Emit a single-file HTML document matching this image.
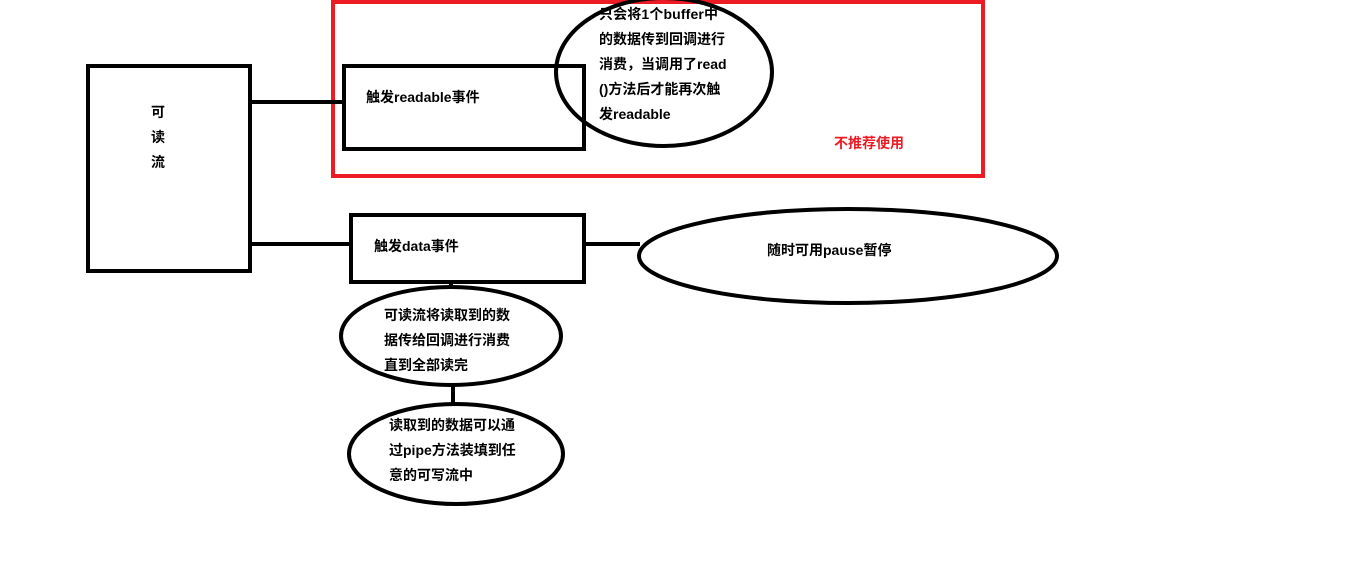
<!DOCTYPE html>
<html><head><meta charset="utf-8"><style>
body{margin:0;background:#fff;width:1356px;height:572px;overflow:hidden}
svg text{font-family:"Liberation Sans","Noto Sans CJK SC",sans-serif;font-weight:bold;font-size:14px;fill:#000}
</style></head><body>
<svg width="1356" height="572" viewBox="0 0 1356 572" xmlns="http://www.w3.org/2000/svg">
<rect x="333" y="2" width="650" height="174" fill="none" stroke="#ed1c24" stroke-width="4"/>
<rect x="88" y="66" width="162" height="205" fill="none" stroke="#000" stroke-width="4"/>
<rect x="344" y="66" width="240" height="83" fill="none" stroke="#000" stroke-width="4"/>
<ellipse cx="664" cy="72" rx="108" ry="74" fill="none" stroke="#000" stroke-width="4"/>
<rect x="351" y="215" width="233" height="67" fill="none" stroke="#000" stroke-width="4"/>
<ellipse cx="848" cy="256" rx="209" ry="47" fill="none" stroke="#000" stroke-width="4"/>
<ellipse cx="451" cy="336" rx="110" ry="49" fill="none" stroke="#000" stroke-width="4"/>
<ellipse cx="456" cy="454" rx="107" ry="50" fill="none" stroke="#000" stroke-width="4"/>
<g stroke="#000" stroke-width="4">
<line x1="252" y1="102" x2="344" y2="102"/>
<line x1="252" y1="244" x2="351" y2="244"/>
<line x1="586" y1="244" x2="640" y2="244"/>
<line x1="451" y1="282" x2="451" y2="288"/>
<line x1="453" y1="386" x2="453" y2="404"/>
</g>
<text x="151" y="117">可</text>
<text x="151" y="142">读</text>
<text x="151" y="167">流</text>
<text x="366" y="102">触发readable事件</text>
<text x="599" y="19" textLength="119">只会将1个buffer中</text>
<text x="599" y="44">的数据传到回调进行</text>
<text x="599" y="69">消费，当调用了read</text>
<text x="599" y="94">()方法后才能再次触</text>
<text x="599" y="119">发readable</text>
<text x="834" y="148" style="fill:#ed1c24;font-size:14px">不推荐使用</text>
<text x="374" y="251">触发data事件</text>
<text x="767" y="255">随时可用pause暂停</text>
<text x="384" y="320">可读流将读取到的数</text>
<text x="384" y="345">据传给回调进行消费</text>
<text x="384" y="370">直到全部读完</text>
<text x="389" y="430">读取到的数据可以通</text>
<text x="389" y="455">过pipe方法装填到任</text>
<text x="389" y="480">意的可写流中</text>
</svg>
</body></html>
